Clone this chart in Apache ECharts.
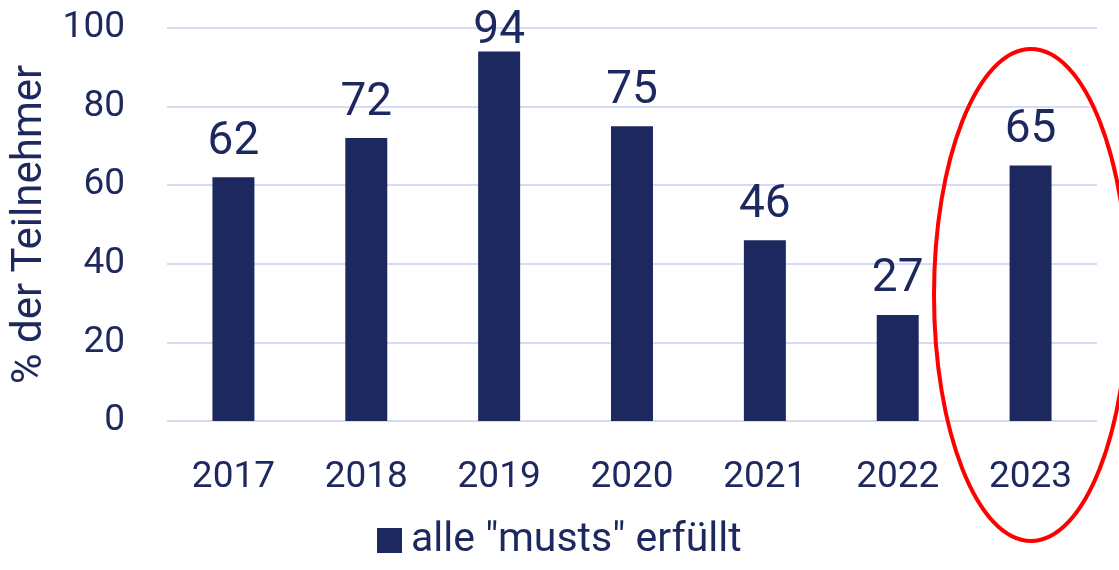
<!DOCTYPE html>
<html>
<head>
<meta charset="utf-8">
<script src="https://cdn.jsdelivr.net/npm/echarts@6/dist/echarts.min.js"></script>
<style>
  html, body { margin: 0; padding: 0; background: #fff; }
  #myCharts { width: 1119px; height: 570px; }
</style>
</head>
<body>
<div id="myCharts"></div>
<script>
// Daten
const categories = ["2017", "2018", "2019", "2020", "2021", "2022", "2023"];
const values = [62, 72, 94, 75, 46, 27, 65];
const seriesName = 'alle "musts" erfüllt';
const yTicks = [0, 20, 40, 60, 80, 100];

const navy = "#1d285f";
const font = "Roboto";

const myCharts = echarts.init(document.getElementById("myCharts"));

// Beschriftung bei hohen Balken näher an den Balken rücken (wie im Original)
const barData = values.map(function(v) {
  return v > 90 ? { value: v, label: { distance: -3 } } : v;
});

let option = {
  animation: false,
  textStyle: { fontFamily: font, color: navy },
  grid: {
    left: 167,
    right: 22,
    top: 28,
    bottom: 149
  },
  legend: {
    bottom: 4,
    left: 372,
    itemWidth: 25,
    itemHeight: 25,
    itemGap: 10,
    icon: "rect",
    textStyle: { fontFamily: font, fontSize: 41, color: navy, padding: [0, 0, 0, 4] },
    data: [seriesName]
  },
  xAxis: {
    type: "category",
    data: categories,
    axisLine: { show: false },
    axisTick: { show: false },
    axisLabel: { fontSize: 37, color: navy, margin: 38, fontFamily: font }
  },
  yAxis: {
    type: "value",
    name: "% der Teilnehmer",
    nameLocation: "middle",
    nameGap: 112,
    nameRotate: 90,
    nameTextStyle: { fontSize: 42, color: navy, fontFamily: font },
    min: yTicks[0],
    max: yTicks[yTicks.length - 1],
    interval: 20,
    axisLine: { show: false },
    axisTick: { show: false },
    axisLabel: { fontSize: 37, color: navy, margin: 42, fontFamily: font },
    splitLine: { lineStyle: { color: "#d6daf2", width: 2 } }
  },
  series: [
    {
      name: seriesName,
      type: "bar",
      data: barData,
      barWidth: "31.6%",
      itemStyle: { color: navy },
      label: {
        show: true,
        position: "top",
        distance: 12,
        fontSize: 46,
        color: navy,
        fontFamily: font
      }
    }
  ],
  graphic: [
    {
      type: "ellipse",
      shape: { cx: 1031, cy: 295, rx: 97, ry: 246 },
      style: { fill: "none", stroke: "#ff0000", lineWidth: 4 },
      z: 100
    }
  ]
};
myCharts.setOption(option);
</script>
</body>
</html>
